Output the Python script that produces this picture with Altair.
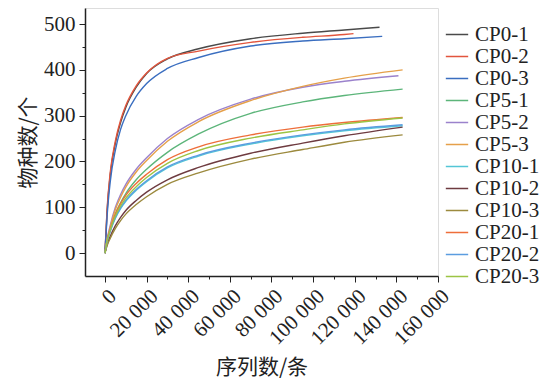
import altair as alt
import pandas as pd

names = ["CP0-1", "CP0-2", "CP0-3", "CP5-1", "CP5-2", "CP5-3",
         "CP10-1", "CP10-2", "CP10-3", "CP20-1", "CP20-2", "CP20-3"]
colors = ["#4a4a4a", "#e2553d", "#3a6ec0", "#5cb57a", "#9b82cc", "#e5a04a",
          "#54c6d6", "#6e3b40", "#9c8a3e", "#ee6e3a", "#5b9de0", "#9cc444"]

# sampled sequence depths (reads); the last point of each curve is its own end depth
depth_base = [0, 1000, 2500, 5000, 7500, 10000, 15000, 20000, 30000, 45000, 70000, 95000, 115000]
end_depth = {
    "CP0-1": 131900, "CP0-2": 119400, "CP0-3": 133200,
    "CP5-1": 143000, "CP5-2": 141000, "CP5-3": 143000,
    "CP10-1": 143000, "CP10-2": 143000, "CP10-3": 143000,
    "CP20-1": 143000, "CP20-2": 143000, "CP20-3": 143000,
}
cp0_1 = [0, 90, 170, 240, 285, 318, 362, 392, 424, 446, 468, 480, 487, 493]
cp0_2 = [0, 95, 175, 245, 290, 322, 365, 393, 425, 441, 460, 471, 477, 479]
cp0_3 = [0, 80, 155, 225, 270, 300, 342, 370, 403, 427, 452, 463, 468, 473]
cp5_1 = [0, 27, 52, 86, 110, 130, 160, 183, 220, 260, 305, 330, 344, 358]
cp5_2 = [0, 30, 60, 100, 128, 150, 183, 208, 250, 292, 336, 362, 375, 387]
cp5_3 = [0, 28, 56, 95, 122, 144, 177, 202, 244, 287, 333, 364, 382, 400]
cp10_1 = [0, 24, 47, 76, 97, 113, 137, 156, 186, 212, 238, 256, 267, 278]
cp10_2 = [0, 18, 36, 60, 78, 93, 115, 133, 160, 187, 218, 240, 256, 275]
cp10_3 = [0, 16, 32, 54, 71, 85, 106, 123, 150, 175, 205, 226, 242, 258]
cp20_1 = [0, 27, 52, 85, 108, 126, 152, 172, 204, 232, 258, 275, 285, 296]
cp20_2 = [0, 25, 48, 78, 99, 115, 139, 158, 188, 214, 240, 258, 269, 280]
cp20_3 = [0, 26, 50, 81, 103, 120, 145, 165, 196, 224, 251, 269, 282, 295]

series = {
    "CP0-1": cp0_1, "CP0-2": cp0_2, "CP0-3": cp0_3,
    "CP5-1": cp5_1, "CP5-2": cp5_2, "CP5-3": cp5_3,
    "CP10-1": cp10_1, "CP10-2": cp10_2, "CP10-3": cp10_3,
    "CP20-1": cp20_1, "CP20-2": cp20_2, "CP20-3": cp20_3,
}

rows = []
for n in names:
    xs = [d for d in depth_base if d < end_depth[n]] + [end_depth[n]]
    ys = series[n]
    for i, (xv, yv) in enumerate(zip(xs, ys)):
        rows.append({"sample": n, "depth": xv, "otus": yv, "o": i})
df = pd.DataFrame(rows)

x_ticks = list(range(0, 160001, 10000))
y_ticks = list(range(0, 501, 50))

serif = "Liberation Serif"
cjk = "Noto Sans CJK SC"

chart = alt.Chart(df).mark_line(strokeWidth=1.4, interpolate="monotone").encode(
    x=alt.X("depth:Q",
            scale=alt.Scale(domain=[-9600, 160000], nice=False, zero=False),
            axis=alt.Axis(values=x_ticks, labelAngle=315,
                          labelExpr="datum.value % 20000 === 0 ? replace(format(datum.value, ','), ',', ' ') : ''",
                          tickSize=alt.ExprRef("datum.value % 20000 === 0 ? 6 : 3"),
                          title="序列数/条", titleFont=cjk, titleFontSize=21,
                          titleFontWeight="normal", titleColor="#222",
                          titlePadding=8, labelPadding=3,
                          labelFont=serif, labelFontSize=21, labelColor="#222",
                          domainColor="#222", tickColor="#222", domainWidth=1.5,
                          grid=False, labelOverlap=False, labelBound=False, labelFlush=False)),
    y=alt.Y("otus:Q",
            scale=alt.Scale(domain=[-50, 535], nice=False, zero=False),
            axis=alt.Axis(values=y_ticks,
                          labelExpr="datum.value % 100 === 0 ? datum.value : ''",
                          tickSize=alt.ExprRef("datum.value % 100 === 0 ? 6 : 3"),
                          title="物种数/个", titleFont=cjk, titleFontSize=21,
                          titleFontWeight="normal", titleColor="#222",
                          titlePadding=5, labelPadding=4,
                          labelFont=serif, labelFontSize=21, labelColor="#222",
                          domainColor="#222", tickColor="#222", domainWidth=1.5,
                          grid=False, labelOverlap=False, labelBound=False, labelFlush=False)),
    color=alt.Color("sample:N",
                    scale=alt.Scale(domain=names, range=colors),
                    legend=alt.Legend(title=None, orient="none", legendX=360, legendY=17,
                                      symbolType="stroke", symbolSize=500,
                                      symbolStrokeWidth=1.5, labelFont=serif,
                                      labelFontSize=21, labelColor="#222",
                                      clipHeight=19, rowPadding=0, labelOffset=6,
                                      labelLimit=200)),
    order="o:Q",
    detail="sample:N",
).properties(
    width=353, height=268,
    autosize=alt.AutoSizeParams(type="none"),
    padding={"left": 77, "top": 0, "right": 102, "bottom": 104},
).configure_view(stroke="#222", strokeWidth=1.5).configure(background="white")

chart.save("out.html", embed_options={"renderer": "svg", "actions": False})
